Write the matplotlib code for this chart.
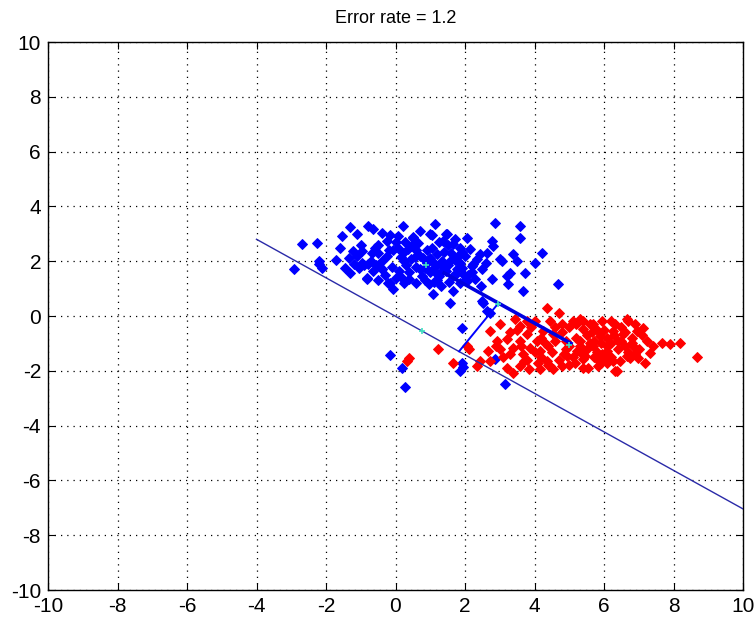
import matplotlib
matplotlib.use('Agg')
import matplotlib.pyplot as plt
import numpy as np

plt.rcParams['font.family'] = ['Liberation Sans Narrow', 'DejaVu Sans Condensed', 'Liberation Sans', 'DejaVu Sans']
plt.rcParams['axes.unicode_minus'] = False

# class 1 (blue) points
blue_pts = [
    (-2.70, 2.62), (-2.92, 1.73), (-2.25, 2.68), (-2.19, 2.01), (-2.12, 1.76), (-2.20, 1.90),
    (-1.55, 2.92), (-1.31, 3.25), (-1.12, 2.98), (-1.45, 1.76), (-1.31, 1.58), (-1.21, 2.37),
    (-0.97, 2.37), (-0.83, 1.40), (-0.78, 3.28), (-0.59, 2.49), (-0.64, 3.16), (-0.40, 3.04),
    (-0.50, 2.60), (-0.68, 2.30), (-0.50, 2.30), (-0.70, 2.00), (-0.55, 1.85), (-0.40, 1.70),
    (-0.95, 1.95), (-1.05, 1.75), (-0.40, 2.00), (-0.20, 2.40), (-0.07, 2.40), (0.08, 2.50),
    (0.22, 2.30), (0.27, 2.70), (0.50, 2.90), (0.45, 2.55), (0.60, 2.40), (0.25, 2.00),
    (0.45, 2.07), (0.60, 1.80), (0.40, 1.60), (0.20, 1.40), (0.00, 1.40), (0.25, 1.20),
    (0.60, 1.20), (0.85, 1.30), (1.00, 1.60), (1.15, 1.80), (1.35, 2.00), (1.50, 1.85),
    (1.45, 1.65), (1.65, 1.45), (1.78, 1.70), (1.85, 1.95), (1.60, 2.30), (1.50, 2.60),
    (1.25, 2.70), (1.05, 2.95), (1.45, 3.00), (1.70, 2.80), (1.85, 2.50), (2.00, 2.20),
    (2.10, 1.50), (2.00, 1.30), (1.85, 1.20), (1.30, 1.10), (1.20, 1.30), (0.80, 2.10),
    (0.92, 2.40), (1.00, 2.10), (1.20, 2.25), (1.30, 1.60), (0.85, 1.75), (-0.83, 1.34),
    (-0.78, 1.89), (-0.40, 1.70), (-0.64, 1.64), (-0.21, 1.22), (-0.06, 0.97), (-0.16, 1.22),
    (0.22, 3.28), (0.08, 2.92), (0.71, 3.10), (0.51, 2.86), (0.99, 2.98), (1.14, 3.35),
    (1.47, 2.98), (1.38, 2.74), (1.66, 2.62), (2.05, 2.86), (2.43, 2.25), (2.24, 1.89),
    (2.34, 2.07), (2.19, 1.82), (1.95, 1.52), (2.05, 1.28), (1.66, 0.91), (1.09, 0.79),
    (1.57, 0.49), (2.86, 3.41), (3.58, 3.28), (3.58, 2.86), (2.77, 2.74), (2.81, 2.55),
    (2.62, 2.31), (3.01, 2.07), (3.39, 2.25), (3.49, 2.01), (4.21, 2.31), (4.01, 1.95),
    (3.73, 1.58), (3.30, 1.58), (3.20, 1.46), (2.77, 1.34), (3.25, 1.16), (3.68, 0.91),
    (4.69, 1.16), (2.53, 0.49), (2.62, 0.18), (2.48, 0.55), (2.72, 0.12), (3.06, 2.01),
    (0.90, 1.95), (0.70, 1.70), (1.10, 1.95), (1.25, 1.45), (0.55, 2.15), (1.70, 2.05),
    (0.30, 1.85), (-0.10, 1.80), (-0.25, 2.75), (1.90, 2.35),
    (-1.60, 2.50), (-1.35, 2.10), (-1.00, 2.60), (-0.90, 1.85), (-0.25, 2.20), (-0.30, 1.50),
    (-1.70, 2.05), (-1.20, 1.90), (-0.15, 2.95), (0.10, 1.65), (0.35, 2.45), (0.65, 2.65),
    (0.75, 1.45), (0.95, 1.15), (1.05, 2.50), (1.10, 1.25), (1.40, 2.35), (1.55, 1.25),
    (1.60, 2.05), (1.75, 1.55), (1.90, 1.75), (2.20, 1.60), (2.30, 1.35), (2.15, 2.45),
    (0.15, 2.15), (0.40, 1.35), (0.70, 2.20), (1.15, 1.60), (1.35, 1.85), (1.80, 2.20),
    (2.50, 1.70), (2.60, 1.95), (2.45, 1.10), (-0.50, 1.30), (-1.10, 2.20), (0.00, 2.70),
    (-0.16, -1.42), (0.18, -1.91), (0.27, -2.59), (1.90, -1.70), (1.86, -2.01), (1.95, -1.86),
    (2.86, -1.58), (3.15, -2.47), (1.90, -0.43),
]

# class 2 (red) points
red_pts = [
    (4.35, 0.30), (3.44, -0.12), (3.58, -0.36), (3.78, -0.18), (2.72, -0.55), (2.91, -0.91),
    (2.67, -1.28), (2.72, -1.64), (3.01, -1.22), (3.20, -0.85), (3.39, -1.16), (3.58, -0.91),
    (3.78, -0.67), (3.87, -1.16), (3.68, -1.40), (4.06, -0.91), (4.25, -0.55), (4.45, -0.18),
    (4.54, -0.67), (4.16, -1.28), (4.35, -1.64), (4.54, -1.95), (4.20, -1.50), (4.78, -1.82),
    (4.93, -1.46), (5.21, -1.28), (5.31, -0.91), (5.21, -0.24), (5.40, -0.49), (5.69, -0.30),
    (5.88, -0.73), (5.69, -1.09), (5.40, -1.58), (5.79, -1.58), (5.55, -1.89), (6.08, -1.28),
    (6.27, -1.64), (6.32, -2.01), (6.32, -0.30), (6.70, -0.18), (6.56, -0.67), (6.94, -0.55),
    (7.13, -0.43), (6.84, -1.09), (7.23, -0.91), (6.65, -1.46), (6.99, -1.52), (7.32, -1.34),
    (6.41, -0.91), (7.66, -0.97), (7.90, -1.03), (8.19, -0.97), (8.67, -1.50), (1.23, -1.22),
    (0.32, -1.64), (0.38, -1.55), (1.66, -1.70), (2.05, -1.09), (2.12, -1.20), (2.43, -1.64),
    (2.34, -1.82), (3.39, -2.07), (3.58, -1.82), (3.78, -1.60), (4.45, -1.82), (6.00, -1.46),
    (6.08, -1.70), (6.65, -0.12), (6.75, -1.52), (6.37, -2.01), (5.84, -1.82), (5.45, -1.46),
    (5.17, -1.70), (4.40, -1.80), (5.93, -0.18), (5.40, -0.18), (5.20, -0.30), (5.80, -0.50),
    (6.10, -0.80), (6.50, -0.90), (6.80, -1.00), (6.90, -1.40), (7.18, -1.70), (6.60, -0.60),
    (4.60, -0.90), (4.80, -0.60), (4.90, -1.20), (5.00, -0.40), (5.10, -1.50), (5.20, -0.80),
    (5.30, -1.10), (5.50, -0.70), (5.50, -1.20), (5.60, -0.30), (5.70, -0.90), (5.80, -1.30),
    (5.90, -1.00), (6.00, -0.50), (6.10, -1.10), (6.20, -1.50), (6.30, -0.70), (6.40, -1.20),
    (6.50, -0.40), (6.60, -1.10), (4.70, -1.60), (4.40, -1.10), (4.20, -0.80), (4.00, -1.30),
    (3.90, -0.40), (3.60, -1.10), (3.30, -0.60), (3.10, -1.50), (2.90, -1.10), (4.10, -1.70),
    (5.00, -1.80), (5.40, -1.90), (5.90, -1.70), (6.20, -0.20), (5.30, -0.10), (4.70, 0.10),
    (6.80, -0.80), (7.00, -1.20), (7.40, -1.10), (6.90, -0.30), (4.50, -1.30), (5.70, -1.50),
    (6.20, -1.00), (4.90, -0.90), (5.60, -1.00), (3.50, -0.50), (3.20, -1.90), (4.80, -0.30),
    (3.00, -0.30), (3.30, -1.40), (3.70, -1.65), (4.00, -0.20), (4.30, -1.00), (4.60, -0.40),
    (5.10, -0.20), (5.00, -1.10), (5.35, -1.35), (5.95, -1.40), (6.45, -1.65), (6.70, -1.30),
    (7.10, -0.70), (6.25, -0.55), (5.65, -0.60), (4.85, -1.40), (4.15, -1.95), (3.85, -1.95),
]

# separating line, projection segment and perpendicular link
line_x = [-4.0, 10.0]
line_y = [2.80, -7.04]
proj_x = [1.40, 5.05]
proj_y = [1.57, -1.00]
perp_x = [1.83, 2.95]
perp_y = [-1.29, 0.45]
# means / markers on the lines
mark_x = [0.88, 4.98, 0.75, 2.95]
mark_y = [1.85, -1.05, -0.53, 0.45]

title = 'Error rate = 1.2'

fig = plt.figure(figsize=(7.54, 6.2), dpi=100)
ax = fig.add_axes([48/754, 30/620, 695/754, 548/620])

bx, by = zip(*blue_pts)
rx, ry = zip(*red_pts)
ax.plot(bx, by, 'D', color='#0000ff', markersize=5.0, markeredgewidth=0.7, zorder=3)
ax.plot(rx, ry, 'D', color='#ff0000', markersize=5.0, markeredgewidth=0.7, zorder=3)
ax.plot(line_x, line_y, '-', color='#2a2aa8', linewidth=1.0, zorder=4)
ax.plot(proj_x, proj_y, '-', color='#0000e0', linewidth=2.6, zorder=4)
ax.plot(perp_x, perp_y, '-', color='#0000ff', linewidth=1.4, zorder=4)
ax.plot(mark_x, mark_y, '+', color='#40e0c0', markersize=5, markeredgewidth=1.2, zorder=5)

ax.set_xlim(-10, 10)
ax.set_ylim(-10, 10)
ax.set_xticks(np.arange(-10, 11, 2))
ax.set_yticks(np.arange(-10, 11, 2))
ax.grid(True, linestyle=(0, (1, 4)), color='black', linewidth=0.9)
ax.tick_params(direction='in', top=True, right=True, length=5, labelsize=15, pad=5)
for s in ax.spines.values():
    s.set_linewidth(1.0)
ax.set_title(title, fontsize=13, pad=14)

fig.savefig('out.png', dpi=100)
